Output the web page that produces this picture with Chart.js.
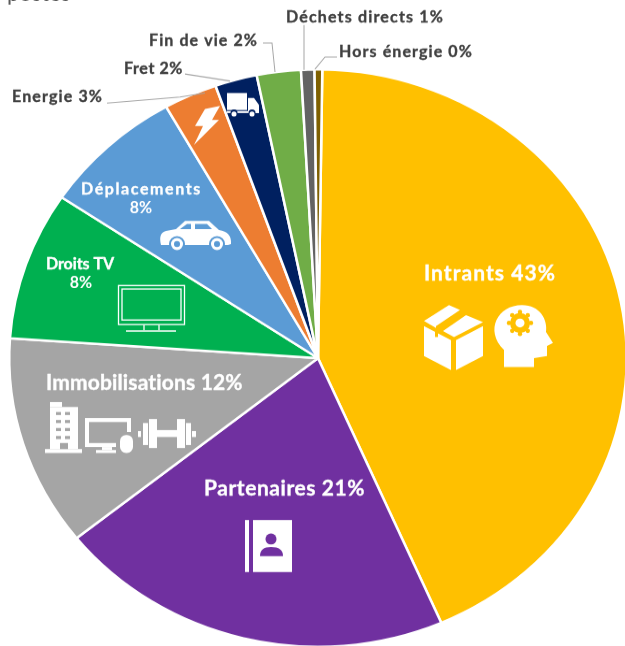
<!DOCTYPE html>
<html>
<head>
<meta charset="utf-8">
<script src="https://cdn.jsdelivr.net/npm/chart.js@4"></script>
<style>
  html, body { margin: 0; background: #fff; overflow: hidden; width: 625px; height: 646px; }
  /* the source picture is a squashed pie: 308px wide radius, 288px tall */
  #pie { position: absolute; left: 0; top: 0; transform-origin: 0 0; transform: scaleY(0.935); filter: blur(0.45px); }
</style>
</head>
<body>
<canvas id="pie" width="640" height="700"></canvas>
<script>
const categories = ['Intrants', 'Partenaires', 'Immobilisations', 'Droits TV', 'Déplacements', 'Energie', 'Fret', 'Fin de vie', 'Déchets directs', 'Hors énergie'];
const shares = [43.2, 20.8, 11.8, 8.3, 7.4, 2.8, 2.2, 2.3, 0.7, 0.4];
const shownPercents = ['43%', '21%', '12%', '8%', '8%', '3%', '2%', '2%', '1%', '0%'];
const colors = ['#FFC000', '#7030A0', '#A5A5A5', '#00B050', '#5B9BD5', '#ED7D31', '#002060', '#70AD47', '#636363', '#7F6000'];

const Y_SCALE = 0.935;
const FONT = 'Lato, sans-serif';
const DARK = '#404040';

// outside labels: index, x, y, width of the text in page pixels
const outsideLabels = [
  [8, 286, 17, 158], [7, 149, 41, 109], [6, 124, 69, 59], [5, 12, 97, 91], [9, 339, 52, 134]
];
// leader lines, page pixels
const leaders = [
  [[107, 103], [180, 97], [205, 93]],
  [[185, 74], [230, 81]],
  [[263, 43], [272, 43], [275, 72]],
  [[304, 25], [304, 70]],
  [[337, 57], [325, 57], [315, 69]]
];

function rect(ctx, x, y, w, h) { ctx.fillRect(x, y, w, h); }

function poly(ctx, pts) {
  ctx.beginPath();
  pts.forEach((p, i) => i ? ctx.lineTo(p[0], p[1]) : ctx.moveTo(p[0], p[1]));
  ctx.closePath();
  ctx.fill();
}

function circle(ctx, x, y, r) {
  ctx.beginPath();
  ctx.arc(x, y, r, 0, Math.PI * 2);
  ctx.fill();
}

// spreads the letters so the text takes the same width as in the source font
function fitText(ctx, text, x, y, width) {
  ctx.letterSpacing = '0px';
  const extra = (width - ctx.measureText(text).width) / text.length;
  ctx.letterSpacing = extra.toFixed(2) + 'px';
  ctx.fillText(text, x, y);
  ctx.lineWidth = 0.35;
  ctx.strokeStyle = ctx.fillStyle;
  ctx.strokeText(text, x, y);
  ctx.letterSpacing = '0px';
}

function drawBox(ctx, bg) {
  ctx.fillStyle = '#fff';
  poly(ctx, [[424, 326], [451, 340], [451, 370], [424, 356]]);
  poly(ctx, [[456, 340], [483, 326], [483, 356], [456, 370]]);
  poly(ctx, [[424, 321], [449, 305], [460, 310], [436, 326], [436, 328]]);
  poly(ctx, [[443, 331], [466, 315], [483, 322], [454, 337]]);
  ctx.fillStyle = bg;
  rect(ctx, 435, 331, 3, 6);
}

function drawHead(ctx, bg) {
  ctx.fillStyle = '#fff';
  ctx.beginPath();
  ctx.moveTo(504, 367);
  ctx.lineTo(504, 350);
  ctx.bezierCurveTo(484, 330, 498, 305, 522, 305);
  ctx.bezierCurveTo(540, 305, 548, 320, 546, 332);
  ctx.lineTo(553, 343);
  ctx.lineTo(547, 346);
  ctx.lineTo(547, 356);
  ctx.lineTo(534, 358);
  ctx.lineTo(534, 367);
  ctx.closePath();
  ctx.fill();
  ctx.fillStyle = bg;
  circle(ctx, 520, 323, 10);
  for (let a = 0; a < 8; a++) {
    const t = a * Math.PI / 4;
    circle(ctx, 520 + Math.cos(t) * 11, 323 + Math.sin(t) * 11, 2.2);
  }
  ctx.fillStyle = '#fff';
  circle(ctx, 520, 323, 4.5);
}

function drawNotebook(ctx, bg) {
  ctx.fillStyle = '#fff';
  rect(ctx, 245, 520, 4, 52);
  rect(ctx, 253, 520, 39, 52);
  ctx.fillStyle = bg;
  circle(ctx, 271, 539, 5.5);
  ctx.beginPath();
  ctx.moveTo(260, 556);
  ctx.quadraticCurveTo(260, 547, 271, 547);
  ctx.quadraticCurveTo(283, 547, 283, 556);
  ctx.closePath();
  ctx.fill();
}

function drawOffice(ctx, bg) {
  ctx.fillStyle = '#fff';
  // building
  rect(ctx, 50, 402, 12, 5);
  rect(ctx, 50, 407, 28, 42);
  rect(ctx, 45, 449, 37, 4);
  ctx.fillStyle = bg;
  for (let r = 0; r < 4; r++) {
    for (let c = 0; c < 2; c++) rect(ctx, 56 + c * 9, 412 + r * 8, 5, 3);
  }
  rect(ctx, 60, 443, 8, 6);
  // monitor and mouse
  ctx.fillStyle = '#fff';
  rect(ctx, 85, 418, 46, 29);
  rect(ctx, 102, 447, 10, 3);
  rect(ctx, 96, 450, 23, 3);
  ctx.fillStyle = bg;
  rect(ctx, 89, 422, 38, 21);
  rect(ctx, 116, 432, 20, 22);
  ctx.fillStyle = '#fff';
  ctx.beginPath();
  ctx.roundRect(120, 435, 13, 18, 6);
  ctx.fill();
  // dumbbell
  rect(ctx, 138, 431, 3, 6);
  rect(ctx, 143, 423, 5, 22);
  rect(ctx, 149, 419, 8, 29);
  rect(ctx, 157, 430, 20, 7);
  rect(ctx, 177, 419, 8, 29);
  rect(ctx, 186, 423, 5, 22);
  rect(ctx, 192, 431, 4, 6);
}

function drawTv(ctx) {
  ctx.strokeStyle = '#fff';
  ctx.lineWidth = 1.3;
  ctx.strokeRect(118.5, 285.5, 66, 39);
  ctx.strokeRect(122, 289, 59, 31);
  ctx.beginPath();
  ctx.moveTo(144, 325); ctx.lineTo(144, 330);
  ctx.moveTo(159, 325); ctx.lineTo(159, 330);
  ctx.moveTo(126, 331); ctx.lineTo(176, 331);
  ctx.stroke();
}

function drawCar(ctx, bg) {
  ctx.fillStyle = '#fff';
  ctx.beginPath();
  ctx.moveTo(161, 245);
  ctx.quadraticCurveTo(158, 233, 166, 231);
  ctx.lineTo(176, 229);
  ctx.lineTo(185, 221);
  ctx.lineTo(209, 221);
  ctx.lineTo(219, 230);
  ctx.quadraticCurveTo(232, 232, 231, 244);
  ctx.lineTo(228, 245);
  ctx.closePath();
  ctx.fill();
  ctx.fillStyle = bg;
  poly(ctx, [[180, 229], [187, 224], [191, 224], [191, 229]]);
  poly(ctx, [[195, 224], [207, 224], [212, 229], [195, 229]]);
  circle(ctx, 177, 244, 8);
  circle(ctx, 217, 244, 8);
  ctx.fillStyle = '#fff';
  circle(ctx, 177, 244, 6);
  circle(ctx, 217, 244, 6);
  ctx.fillStyle = bg;
  circle(ctx, 177, 244, 3);
  circle(ctx, 217, 244, 3);
}

function drawBolt(ctx) {
  ctx.fillStyle = '#fff';
  poly(ctx, [[205, 109], [220, 106], [212, 120], [219, 120], [194, 145], [203, 126], [195, 126]]);
}

function drawTruck(ctx, bg) {
  ctx.fillStyle = '#fff';
  rect(ctx, 227, 93, 20, 17);
  poly(ctx, [[248, 98], [254, 98], [259, 105], [259, 113], [248, 113]]);
  rect(ctx, 227, 111, 32, 2);
  ctx.fillStyle = bg;
  circle(ctx, 234, 113, 3.5);
  circle(ctx, 252, 113, 3.5);
  ctx.fillStyle = '#fff';
  circle(ctx, 234, 114, 2.5);
  circle(ctx, 252, 114, 2.5);
}

const pieLabels = {
  id: 'pieLabels',
  afterDraw(chart) {
    const ctx = chart.ctx;
    ctx.save();
    // undo the squash so everything here is in page pixels
    ctx.scale(1, 1 / Y_SCALE);

    ctx.strokeStyle = '#A6A6A6';
    ctx.lineWidth = 1;
    leaders.forEach(line => {
      ctx.beginPath();
      line.forEach((p, i) => i ? ctx.lineTo(p[0], p[1]) : ctx.moveTo(p[0], p[1]));
      ctx.stroke();
    });

    ctx.textBaseline = 'middle';
    ctx.textAlign = 'left';
    ctx.fillStyle = '#595959';
    ctx.font = '22px ' + FONT;
    ctx.fillText('postes', 7, -6);

    ctx.fillStyle = DARK;
    ctx.font = 'bold 16px ' + FONT;
    outsideLabels.forEach(l => {
      fitText(ctx, categories[l[0]] + ' ' + shownPercents[l[0]], l[1], l[2], l[3]);
    });

    ctx.fillStyle = '#fff';
    ctx.font = 'bold 21px ' + FONT;
    fitText(ctx, categories[0] + ' ' + shownPercents[0], 424, 274, 132);
    fitText(ctx, categories[1] + ' ' + shownPercents[1], 204, 489, 161);
    fitText(ctx, categories[2] + ' ' + shownPercents[2], 46, 383, 197);
    ctx.font = 'bold 16px ' + FONT;
    fitText(ctx, categories[4], 81, 189, 121);
    fitText(ctx, categories[3], 46, 264, 68);
    ctx.textAlign = 'center';
    ctx.fillText(shownPercents[4], 141, 208);
    ctx.fillText(shownPercents[3], 81, 283);

    drawBox(ctx, colors[0]);
    drawHead(ctx, colors[0]);
    drawNotebook(ctx, colors[1]);
    drawOffice(ctx, colors[2]);
    drawTv(ctx);
    drawCar(ctx, colors[4]);
    drawBolt(ctx);
    drawTruck(ctx, colors[6]);
    ctx.restore();
  }
};

new Chart(document.getElementById('pie').getContext('2d'), {
  type: 'pie',
  data: {
    labels: categories,
    datasets: [{
      data: shares,
      backgroundColor: colors,
      borderColor: '#fff',
      borderWidth: 2.5
    }]
  },
  options: {
    responsive: false,
    animation: false,
    rotation: 0.8,
    devicePixelRatio: 1,
    layout: { padding: { left: 8, right: 12, top: 73, bottom: 7 } },
    plugins: { legend: { display: false }, tooltip: { enabled: false } }
  },
  plugins: [pieLabels]
});
</script>
</body>
</html>
